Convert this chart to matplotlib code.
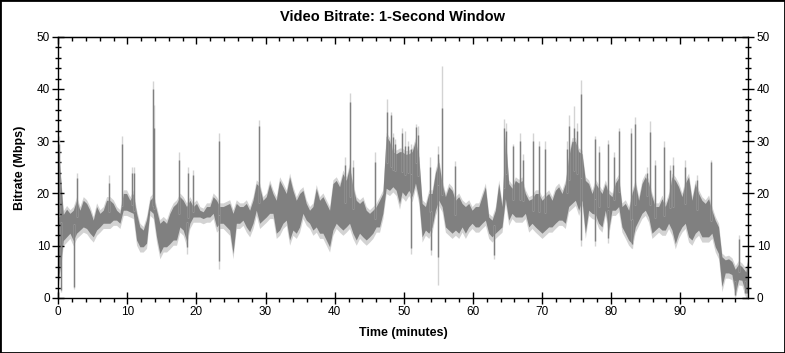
import numpy as np
import matplotlib
matplotlib.use("Agg")
import matplotlib.pyplot as plt
from matplotlib.patches import Rectangle
from matplotlib.ticker import MultipleLocator

plt.rcParams['font.family'] = ['Liberation Sans', 'DejaVu Sans']

# ---- data: per-sample envelope of the 1-second bitrate (Mbps) ----
STEP = 0.482                     # minutes between envelope samples
seg_starts = [0.24, 24.8, 49.76, 74.83]

seg1_hi = [29, 16, 17, 16.2, 16.8, 18.7, 16.8, 18.7, 18.1, 16.8,
           14.9, 17.5, 16.2, 16.8, 18.7, 18.7, 18.1, 16.8, 16.2, 20,
           20, 18.7, 20, 16.2, 13.6, 13, 15, 18.7, 19.4, 16.8,
           14.3, 14.9, 14.3, 16.2, 17.5, 18.1, 19.4, 18.7, 17.5, 18.7,
           17.5, 18.1, 16.8, 16.5, 17.5, 17.5, 19.4, 18.7, 17.5, 17.5]
seg1_lo = [3, 11, 11.7, 12.4, 11, 12.4, 13, 13.6, 13.3, 12.4,
           11.7, 13, 13.6, 14.3, 14.3, 14.3, 14.9, 14.9, 14.3, 16.8,
           16.8, 16.5, 16.2, 11.1, 9.8, 9.8, 10.5, 16.8, 16.2, 11.7,
           8.5, 9.8, 9.8, 10.4, 11.1, 11.1, 13.6, 13, 11, 14.3,
           15.5, 15.5, 15.5, 15.2, 15.5, 15.5, 16.2, 13.6, 14.3, 14.3]

seg2_hi = [18.1, 16.2, 18.1, 17.5, 17.5, 18.1, 16.8, 18.7, 21.9, 21.3,
           18.7, 19.4, 21.9, 20, 18.7, 22.5, 21.3, 20, 23.2, 20.6,
           18.7, 20, 20.6, 18.1, 16.8, 17.5, 21, 18.7, 19.4, 18.1,
           16.8, 21.9, 22.5, 21.3, 23.8, 22.5, 25.1, 21.3, 18.7, 18.1,
           18.7, 16.8, 16.2, 16.8, 17.5, 18.7, 20, 31, 30, 28,
           27.6, 28]
seg2_lo = [13, 8.5, 14.3, 14.3, 14.9, 13.6, 12.7, 14.3, 16.8, 14.3,
           14.9, 15.5, 16.2, 16.2, 12.4, 13, 14.3, 14.9, 11.1, 13,
           12.4, 13.6, 16.2, 14.9, 14.3, 13, 13.6, 12.4, 12.4, 11.1,
           9.8, 13, 14.3, 13.6, 13, 13.6, 14.3, 12.4, 11.1, 12.4,
           11.7, 11.1, 11.7, 12.4, 13.6, 13.6, 16.2, 21, 20.6, 21.3,
           20.6, 18]

seg3_hi = [28, 27.5, 27.6, 28, 30, 27, 18.1, 17.5, 20, 20,
           24, 26, 21.9, 19.4, 21.3, 20.6, 18.7, 19.4, 18.1, 17.5,
           18.1, 16.8, 17.5, 17.5, 19.4, 21.3, 15.5, 14.9, 16.8, 21.9,
           17.5, 31, 21.9, 21, 22.5, 22, 22.5, 20, 18.7, 19,
           20, 20, 18.7, 19.4, 20, 18.7, 20.6, 21.3, 20, 21.9,
           27, 30]
seg3_lo = [20.3, 19.5, 20.6, 19.4, 22, 19, 11.7, 13, 12.4, 13.6,
           16.8, 18.7, 17.5, 13.6, 13, 12.4, 13, 12.4, 13.6, 12.4,
           13.6, 14.3, 13.6, 13.6, 14.3, 14.9, 12.4, 11.7, 12.4, 13,
           13.6, 19, 14.9, 16.2, 15.5, 15.5, 15.5, 16.2, 13.6, 14.3,
           13.6, 13, 12.4, 13, 13.6, 13.6, 14.3, 14.9, 14.9, 14.3,
           17.5, 18.1]

seg4_hi = [30, 28, 27.6, 22.5, 21.9, 20, 22, 21, 20, 21.9,
           20, 19.4, 22, 23, 17.5, 18.1, 16.8, 20, 22, 18.7,
           21.9, 23.2, 22, 19.4, 17.5, 17.5, 19, 17.5, 19.4, 23.2,
           22.5, 21.3, 19.4, 22, 23.2, 18.7, 21.9, 20, 18.7, 18.1,
           19, 16.8, 14.9, 13.6, 7.9, 7.3, 7.5, 7, 5.5, 6.5,
           6]
seg4_lo = [18.7, 16.8, 18.7, 12.4, 16.8, 16.2, 16, 14.3, 13.6, 16.8,
           13, 16.8, 16.8, 17.5, 13.6, 12.4, 11.1, 10.4, 13.6, 14.9,
           16.2, 16.8, 15.5, 12.4, 13, 13.6, 13, 13, 14.3, 13,
           10.4, 12.4, 13.6, 14.3, 11.7, 11.1, 12.4, 13, 11.7, 11.7,
           11.7, 12.4, 9.8, 8.5, 2.2, 4.8, 4.8, 4.5, 0.8, 3.5,
           3.4]
tail_t = [99.5, 99.85]
tail_hi = [5, 7.8]
tail_lo = [0.9, 1]

# isolated one-second peaks (minutes, dark peak, light tip)
spike_t = [0.1, 2.65, 7.3, 9.27, 10.6, 11.0, 13.75, 13.85, 17.5, 18.8,
           19.5, 23.26, 29.05, 41.5, 42.22, 42.6, 45.8, 47.6, 48.1, 48.5,
           48.8, 49.8, 50.2, 50.65, 51.1, 51.7, 52.1, 53.8, 54.9, 55.55,
           57.4, 64.5, 64.8, 65.75, 66.8, 67.3, 68.75, 69.5, 70.5, 73.6,
           73.95, 74.7, 75.0, 75.64, 77.7, 78.3, 79.5, 80.4, 81.1, 82.95,
           83.5, 85.15, 85.6, 86.35, 87.6, 88.5, 89.0, 90.7, 92.4, 94.5,
           98.55]
spike_peak = [29.5, 23, 22, 29.5, 24, 24, 40, 32.5, 26.5, 24,
              23.5, 30, 33, 25.5, 37.5, 25, 26, 35.6, 35, 30.8,
              29.5, 31.5, 29, 29, 28.5, 32.8, 31.2, 25, 27.5, 36.3,
              25.2, 32.5, 32, 29, 30, 26.5, 30, 29, 28.6, 28.5,
              33, 32.5, 32, 39, 30.5, 28, 29.5, 27, 32, 31.5,
              33.3, 24, 31.7, 25.5, 28.9, 24.5, 25.5, 25.1, 22.5, 26,
              11.3]
spike_tip = [31, 24, 23.5, 31, 25, 25, 41.5, 37, 28, 25,
             24.5, 31.5, 34, 27, 39.2, 26.5, 28, 38, 35.5, 31.5,
             30.5, 32.5, 32, 30, 29.5, 33.2, 33, 27, 29, 44.4,
             26.2, 34.3, 33.5, 29.5, 31.5, 27.5, 31.5, 30, 30, 30,
             35, 36.7, 33.5, 41.7, 31, 29, 30.3, 28, 32.5, 32.5,
             34.7, 25, 33.8, 26.5, 30, 25.5, 27, 26.5, 23.5, 26.5,
             12]

# isolated one-second dips (minutes, dark low, light tip)
dip_t = [0.4, 2.27, 18.6, 23.3, 51.1, 53.95, 54.9, 63.0, 75.7, 77.7, 79.6, 83.0, 98.0, 99.4]
dip_low = [1.5, 2.2, 9.8, 7, 9.6, 9.2, 7.9, 8.2, 11.1, 11, 11.5, 10.4, 0.6, 0.9]
dip_tip = [1.2, 1.8, 8.5, 5.5, 8.5, 8.2, 2.4, 7.5, 10, 10, 10.5, 9.5, 0.4, 0.6]

x_ticks = [0, 10, 20, 30, 40, 50, 60, 70, 80, 90]
y_ticks = [0, 10, 20, 30, 40, 50]

# ---- assemble envelope ----
his = [seg1_hi, seg2_hi, seg3_hi, seg4_hi]
los = [seg1_lo, seg2_lo, seg3_lo, seg4_lo]
t_all, hi_all, lo_all = [], [], []
for s0, h, l in zip(seg_starts, his, los):
    tt = s0 + STEP * np.arange(len(h))
    t_all.append(tt); hi_all.append(h); lo_all.append(l)
t = np.concatenate(t_all + [np.array(tail_t)])
t[0] = 0.0
hi = np.concatenate([np.array(x, float) for x in hi_all] + [np.array(tail_hi, float)])
lo = np.concatenate([np.array(x, float) for x in lo_all] + [np.array(tail_lo, float)])

DARK = '#808080'
LIGHT = '#d3d3d3'

W, H = 785, 353
fig = plt.figure(figsize=(W / 100, H / 100), dpi=100)
ax = fig.add_axes([58.3 / W, 1 - 298 / H, (748.3 - 58.3) / W, (298 - 36.7) / H])

ax.fill_between(t, np.clip(lo - 1.0, 0, None), hi + 0.7, color=LIGHT, lw=0)
ax.fill_between(t, lo, hi, color=DARK, lw=0)

st = np.array(spike_t)
base = np.interp(st, t, (hi + lo) / 2)
ax.vlines(st, base, spike_tip, color=LIGHT, lw=1.0)
ax.vlines(st, base, spike_peak, color=DARK, lw=1.0)

dt = np.array(dip_t)
dbase = np.interp(dt, t, (hi + lo) / 2)
ax.vlines(dt, dip_tip, dbase, color=LIGHT, lw=1.0)
ax.vlines(dt, dip_low, dbase, color=DARK, lw=1.0)

ax.set_xlim(0, 99.86)
ax.set_ylim(0, 50)
ax.set_xticks(x_ticks)
ax.set_yticks(y_ticks)
ax.xaxis.set_minor_locator(MultipleLocator(2))
ax.yaxis.set_minor_locator(MultipleLocator(2))
ax.tick_params(axis='both', which='both', right=True, labelright=True,
               labelsize=8.5, colors='black', width=1)
ax.tick_params(axis='y', which='major', direction='inout', length=8, pad=2)
ax.tick_params(axis='y', which='minor', direction='inout', length=5)
ax.tick_params(axis='x', which='major', direction='inout', length=8, pad=2)
ax.tick_params(axis='x', which='minor', direction='out', length=3)

top = ax.secondary_xaxis('top')
top.set_xticks(x_ticks)
top.xaxis.set_minor_locator(MultipleLocator(2))
top.tick_params(which='both', direction='in', labeltop=False, width=1)
top.tick_params(which='major', length=5)
top.tick_params(which='minor', length=3)

for sp in ax.spines.values():
    sp.set_linewidth(1)
    sp.set_color('black')

ax.set_xlabel('Time (minutes)', fontsize=9, fontweight='bold', labelpad=6)
ax.set_ylabel('Bitrate (Mbps)', fontsize=9, fontweight='bold', labelpad=8)
fig.text(0.5, 1 - 17 / H, 'Video Bitrate: 1-Second Window', ha='center', va='center',
         fontsize=10.5, fontweight='bold')

fig.patches.append(Rectangle((0, 0), 1, 1, transform=fig.transFigure, fill=False,
                             edgecolor='black', lw=2))
fig.savefig('out.png', dpi=100)
